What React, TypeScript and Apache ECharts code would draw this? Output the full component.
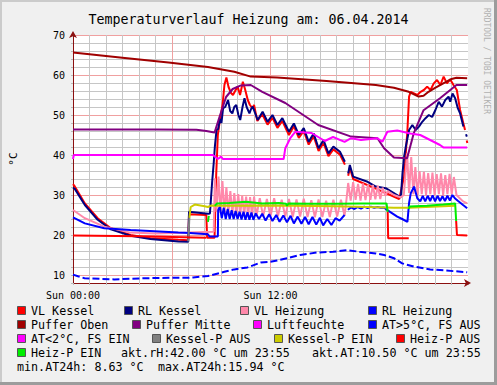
import React, { useEffect, useRef } from 'react';
import * as echarts from 'echarts';

type P = [number, number | null];

// hours since Sun 00:00, temperature °C
const vlKessel: P[] = [[0,32.7],[0.1,32.2],[0.72,27.9],[1.5,24.2],[2.3,21.7],[3.5,20.0],[4.7,19.2],[6.4,18.8],[7.0,18.7],[7.05,25.2],[8.1,25.0],[8.15,19.3],[8.6,19.3],[8.7,35],[8.8,45],[8.9,48],[9.0,50.4],[9.1,53],[9.2,57.5],[9.32,59.4],[9.45,57],[9.6,55.5],[9.72,55],[9.85,56],[10.0,57.1],[10.15,55],[10.32,58.3],[10.45,56.5],[10.62,53.75],[10.75,52.5],[10.9,51.7],[11.0,52.5],[11.2,48.5],[11.5,50.2],[11.82,47.6],[12.12,49.3],[12.42,46.8],[12.72,48.5],[13.12,45.0],[13.42,47.2],[13.72,44.3],[14.02,46.0],[14.32,42.6],[14.62,44.7],[14.92,41.0],[15.22,43.0],[15.52,39.7],[15.82,41.4],[16.22,40.1],[16.52,37.6],[16.6,null],[16.72,34.8],[16.82,36.8],[17.02,34.0],[18.4,31.6],[19.82,29.0],[20.12,34.6],[20.32,46.25],[20.42,54.6],[20.52,55.8],[20.72,55.4],[20.92,55.0],[21.12,55.8],[21.32,56.25],[21.52,57.1],[21.72,56.25],[21.92,57.9],[22.12,58.75],[22.32,57.5],[22.52,59.6],[22.72,57.9],[22.92,58.9],[23.12,57.5],[23.32,56.25],[23.52,51.25],[23.72,47.9],[23.82,46.25],[23.9,null],[23.92,43.6],[23.96,43.0]];

const rlKessel: P[] = [[0,31.8],[0.1,31.6],[0.72,27.5],[1.5,23.8],[2.3,21.4],[3.5,19.8],[4.7,19.0],[6.4,18.4],[7.0,18.3],[7.05,25.8],[8.2,25.3],[8.32,25.4],[8.45,33],[8.55,38],[8.62,42.1],[8.72,46.25],[8.82,46.5],[8.92,49],[9.02,48],[9.12,51.7],[9.25,52],[9.42,53.75],[9.55,51],[9.68,50.4],[9.8,52],[9.92,52.5],[10.05,50],[10.16,48.75],[10.3,52],[10.42,54.2],[10.55,52],[10.72,50.4],[10.82,51.5],[10.92,52.1],[11.22,48.75],[11.52,50.8],[11.82,48.3],[12.12,50],[12.42,47.5],[12.72,49.2],[13.12,45.8],[13.42,47.9],[13.72,45],[14.02,46.7],[14.32,43.3],[14.62,45.4],[14.92,41.7],[15.22,43.75],[15.52,40.4],[15.82,42.1],[16.22,40.8],[16.52,38.3],[16.6,null],[16.72,35.4],[16.82,37.5],[17.02,34.6],[17.9,33.3],[18.4,32.1],[19.0,31.7],[19.92,29.4],[20.02,35.4],[20.12,39.6],[20.22,42.1],[20.42,46.25],[20.62,47.5],[20.82,46.25],[21.02,47.1],[21.22,48.3],[21.42,49.2],[21.62,50],[21.82,49.5],[22.02,51.25],[22.22,53.3],[22.42,52.1],[22.62,53.75],[22.82,54.6],[22.92,53.3],[23.06,55.4],[23.22,54.2],[23.38,51.7],[23.52,50.4],[23.72,47.1],[23.8,null],[23.88,45.2],[23.93,44.6]];

const vlHeizung: P[] = [[0,26.25],[0.72,24.2],[1.9,22.1],[3.5,20.6],[5.0,20.4],[7.0,20.6],[8.55,20.8],[8.62,34.2],[8.72,25.8],[8.84,34.6],[8.96,25.5],[9.08,33.5],[9.2,25.3],[9.32,32.0],[9.44,25.3],[9.56,31.0],[9.68,25.2],[9.8,30.5],[9.92,25.0],[10.04,30.2],[10.16,25.0],[10.28,29.8],[10.4,25.0],[10.52,29.6],[10.64,24.9],[10.76,29.5],[10.88,24.8],[11.0,29.6],[11.15,24.8],[11.35,29.2],[11.55,24.6],[11.78,29.0],[12.0,24.6],[12.22,29.2],[12.45,24.7],[12.68,28.8],[12.9,24.6],[13.12,29.0],[13.35,24.5],[13.58,28.9],[13.8,24.6],[14.02,29.1],[14.25,24.5],[14.48,28.7],[14.7,24.4],[14.92,28.9],[15.15,24.5],[15.38,28.6],[15.6,24.5],[15.82,28.8],[16.05,24.6],[16.28,28.8],[16.5,24.8],[16.62,29],[16.72,33.0],[16.87,28.6],[17.02,33.2],[17.17,28.8],[17.32,32.8],[17.47,28.6],[17.62,32.9],[17.77,28.7],[17.92,32.6],[18.07,28.8],[18.22,32.5],[18.37,28.9],[18.52,32.3],[18.67,29.0],[18.82,31.8],[18.97,29.8],[19.12,31.0],[19.5,30.0],[19.9,29.4],[20.1,30],[20.3,40.4],[20.42,30.5],[20.55,39.5],[20.68,30.2],[20.8,37.0],[20.93,30.0],[21.06,36.0],[21.19,30.2],[21.32,35.8],[21.45,30.0],[21.58,35.5],[21.71,30.2],[21.84,35.6],[21.97,30.0],[22.1,35.2],[22.23,30.2],[22.36,35.4],[22.49,30.0],[22.62,35.0],[22.75,30.2],[22.88,35.3],[23.01,30.2],[23.14,34.5],[23.3,30.0],[23.5,29.2],[23.7,28.4],[23.95,27.9]];

const rlHeizung: P[] = [[0,24.4],[0.72,22.9],[1.9,21.7],[3.5,21.25],[6.4,20.6],[7.1,20.5],[8.2,20.2],[8.3,19.6],[8.8,19.6],[8.82,26.2],[8.92,27.1],[9.04,24.2],[9.16,26.8],[9.28,24.0],[9.4,26.5],[9.52,24.0],[9.64,26.2],[9.76,24.0],[9.88,26.0],[10.0,24.0],[10.12,25.8],[10.24,23.9],[10.36,25.8],[10.48,23.8],[10.6,25.7],[10.72,23.8],[10.84,25.6],[10.96,23.8],[11.1,25.4],[11.3,24.0],[11.5,25.3],[11.7,23.6],[11.92,25.2],[12.12,23.5],[12.35,25.0],[12.55,23.3],[12.78,24.9],[13.0,23.2],[13.22,24.8],[13.42,22.9],[13.65,24.6],[13.88,22.8],[14.1,24.5],[14.32,22.7],[14.55,24.5],[14.78,22.6],[15.0,24.3],[15.2,22.4],[15.45,24.0],[15.7,22.5],[15.95,24.2],[16.2,23.6],[16.5,25.0],[16.6,null],[16.7,26.3],[16.9,26.9],[17.1,26.5],[17.3,27.0],[17.5,26.6],[17.7,27.1],[17.9,26.7],[18.1,27.1],[18.3,26.8],[18.5,27.0],[18.7,26.8],[18.9,26.9],[19.1,26.2],[19.4,25.4],[19.7,24.6],[20.0,24.0],[20.32,23.3],[20.42,28],[20.52,30.4],[20.72,32.1],[20.92,29.2],[21.1,28.4],[21.25,29.8],[21.4,28.4],[21.55,29.8],[21.7,28.5],[21.85,29.9],[22.0,28.4],[22.15,29.8],[22.3,28.5],[22.45,29.7],[22.6,28.5],[22.75,29.8],[22.9,28.6],[23.05,30.0],[23.2,29.2],[23.4,28.5],[23.7,27.5],[23.95,26.7]];

const pufferOben: P[] = [[0,65.6],[3,64.3],[5.8,63.1],[8.2,62.0],[9.8,60.8],[10.8,59.6],[12.4,59.4],[15.4,58.5],[18.4,57.5],[19.5,56.8],[20.4,55.8],[21.0,54.6],[21.3,54.8],[21.6,55.8],[22.0,56.8],[22.5,57.9],[23.0,59.0],[23.3,59.3],[23.95,59.2]];

const pufferMitte: P[] = [[0,46.4],[5,46.4],[7.5,46.3],[8.1,46.0],[8.6,45.6],[8.9,49.5],[9.3,54.5],[9.7,56.5],[10.2,57.4],[10.8,57.5],[11.5,55.8],[12.9,53.0],[14.9,47.5],[16.9,44.6],[18.5,44.2],[18.9,41.7],[19.5,39.4],[20.3,39.2],[20.7,45.4],[21.3,51.2],[22.3,54.2],[23.3,57.5],[23.95,57.5]];

const luftfeuchte: P[] = [[0,39],[0.05,40],[8.5,40],[8.8,39],[9.0,39.6],[9.1,39],[12.8,39],[12.9,41.7],[13.2,44.2],[13.5,45.8],[14.5,45.5],[15.3,43.5],[15.8,44.5],[16.5,43.3],[16.9,44.2],[17.5,43.75],[18.5,44.2],[18.8,43.3],[19.1,45.8],[19.7,46.1],[20.5,45.4],[21.1,45],[21.7,43.75],[22.3,42.5],[22.5,41.9],[23.95,41.9]];

const atWarm: P[] = [[0,10.1],[0.3,9.7],[0.7,9.2],[2.5,8.9],[4.5,9.2],[6.1,9.3],[7.0,9.3],[7.3,9.4],[8.2,9.75],[9.2,10.8],[9.8,11.4],[10.6,11.9],[11.4,13.1],[12.0,13.3],[12.4,13.6],[13.0,14.2],[13.8,15.0],[14.8,15.6],[15.8,15.8],[16.7,16.2],[17.4,15.8],[18.4,15.4],[18.9,15.0],[19.5,14.2],[20.0,12.9],[20.7,12.1],[21.7,11.4],[22.7,11.1],[23.95,10.7]];

const kesselPAus: P[] = [[7.0,18.4],[7.07,24.3]];

const kesselPEin: P[] = [[7.07,24.3],[7.15,27.0],[7.4,27.6],[8.0,27.2],[8.2,27.0],[8.4,27.4],[9.0,27.3],[12.0,27.4],[16.0,27.2],[19.0,26.9],[19.5,26.8],[20.4,26.8],[23.2,27.3]];

const heizPAus: P[] = [[0,19.9],[4,19.7],[8.1,19.3],[8.15,null],[19.12,25.8],[19.15,19.2],[20.4,19.2],[20.5,null],[23.28,23.5],[23.33,20.0],[23.95,19.9]];

const heizPEin: P[] = [[8.2,23.3],[8.25,24.8],[8.3,null],[8.62,27.3],[8.75,27.9],[9.5,28.0],[10.5,28.3],[11.5,27.9],[12.5,28.0],[12.95,27.8],[13.0,27.3],[13.1,27.9],[14.5,27.8],[16.0,27.8],[17.5,27.9],[19.05,27.9],[19.12,25.8],[19.2,null],[20.4,26.5],[20.45,27.1],[21.5,27.3],[22.5,27.6],[23.22,27.9],[23.28,23.5]];

const yTicks = [10, 20, 30, 40, 50, 60, 70];
const xTickLabels: Record<number, string> = { 0: 'Sun 00:00', 12: 'Sun 12:00' };

const titleText = 'Temperaturverlauf Heizung am: 06.04.2014';
const yName = '°C';
const watermark = 'RRDTOOL / TOBI OETIKER';

// legend: [label, colour or null, text x]
const legendRows: [string, string | null, number][][] = [
  [['VL Kessel', '#FF0000', 31], ['RL Kessel', '#000080', 138], ['VL Heizung', '#FF88AA', 254], ['RL Heizung', '#0000FF', 382]],
  [['Puffer Oben', '#A00000', 31], ['Puffer Mitte', '#800080', 146], ['Luftfeuchte', '#FF00FF', 267], ['AT>5°C, FS AUS', '#0000FF', 382]],
  [['AT<2°C, FS EIN', '#FF00FF', 31], ['Kessel-P AUS', '#808080', 166], ['Kessel-P EIN', '#CCCC00', 288], ['Heiz-P AUS', '#FF0000', 410]],
  [['Heiz-P EIN', '#00EE00', 31], ['akt.rH:42.00 °C um 23:55', null, 121], ['akt.AT:10.50 °C um 23:55', null, 312]],
  [['min.AT24h: 8.63 °C', null, 17], ['max.AT24h:15.94 °C', null, 158]],
];
const legendRowY = [311, 325, 339, 353, 367];

const MONO = '"DejaVu Sans Mono", monospace';

export default function App() {
  const ref = useRef<HTMLDivElement>(null);
  useEffect(() => {
    document.body.style.margin = '0';
    if (!ref.current) return;
    const chart = echarts.init(ref.current, null, { renderer: 'svg' });

    const mk = (name: string, data: P[], color: string, extra: any = {}) => ({
      name,
      type: 'line',
      data,
      z: 3,
      showSymbol: false,
      symbol: 'none',
      connectNulls: false,
      lineStyle: { color, width: 2, ...(extra.lineStyle || {}) },
      itemStyle: { color },
      emphasis: { disabled: true },
      silent: true,
    });

    const graphics: any[] = [];
    graphics.push({ type: 'rect', shape: { x: 0, y: 0, width: 497, height: 2 }, style: { fill: '#CBCBCB' } });
    graphics.push({ type: 'rect', shape: { x: 0, y: 0, width: 2, height: 385 }, style: { fill: '#CBCBCB' } });
    graphics.push({ type: 'rect', shape: { x: 494, y: 0, width: 3, height: 385 }, style: { fill: '#9C9C9C' } });
    graphics.push({ type: 'rect', shape: { x: 0, y: 382, width: 497, height: 3 }, style: { fill: '#9C9C9C' } });
    graphics.push({
      type: 'text', x: 486, y: 8, rotation: -Math.PI / 2,
      style: { text: watermark, font: '8px ' + MONO, fill: '#B0B0B0', textAlign: 'left', textVerticalAlign: 'middle', align: 'left', verticalAlign: 'middle' },
    });
    legendRows.forEach((row, ri) => {
      const cy = legendRowY[ri];
      row.forEach(([label, color, tx]) => {
        if (color) {
          graphics.push({
            type: 'rect', shape: { x: tx - 13.5, y: cy - 4.5, width: 8, height: 8 },
            style: { fill: color, stroke: '#555555', lineWidth: 1 },
          });
        }
        graphics.push({
          type: 'text', x: tx, y: cy,
          style: { text: label, font: '11.7px ' + MONO, fill: '#000', textAlign: 'left', textVerticalAlign: 'middle', align: 'left', verticalAlign: 'middle' },
        });
      });
    });

    const minor = '#C6C6C6';
    const major = '#F0A0A0';

    chart.setOption({
      animation: false,
      backgroundColor: '#F0F0F0',
      title: {
        text: titleText, left: 'center', top: 8,
        textStyle: { fontFamily: MONO, fontSize: 13.3, fontWeight: 'normal', color: '#000' },
      },
      grid: { left: 68, top: 35, width: 400, height: 248, show: true, backgroundColor: '#FFFFFF', borderWidth: 0 },
      xAxis: {
        type: 'value', min: 0, max: 24, interval: 1,
        axisLine: { onZero: false, lineStyle: { color: '#8B1010', width: 1 }, symbol: ['none', 'arrow'], symbolSize: [6, 7], symbolOffset: [0, 3] },
        axisTick: { show: true, length: 2, lineStyle: { color: '#BBBBBB' } },
        axisLabel: {
          margin: 7, fontFamily: MONO, fontSize: 10, color: '#000',
          formatter: (v: number) => xTickLabels[v] || '',
        },
        splitLine: { show: true, showMaxLine: false, lineStyle: { color: [major, minor, minor, minor, minor, minor], width: 1, opacity: 1 } },
      },
      yAxis: {
        type: 'value', min: 8, max: 70, interval: 2,
        name: yName, nameLocation: 'middle', nameGap: 54, nameRotate: 90,
        nameTextStyle: { fontFamily: MONO, fontSize: 11, color: '#000' },
        axisLine: { show: true, onZero: false, lineStyle: { color: '#8B1010', width: 1 }, symbol: ['none', 'arrow'], symbolSize: [6, 7], symbolOffset: [0, 4] },
        axisTick: { show: true, length: 2, lineStyle: { color: '#BBBBBB' } },
        axisLabel: {
          margin: 8, fontFamily: MONO, fontSize: 10, color: '#000',
          formatter: (v: number) => (yTicks.indexOf(v) >= 0 ? String(v) : ''),
        },
        splitLine: { show: true, lineStyle: { color: [minor, major, minor, minor, minor], width: 1, opacity: 1 } },
      },
      graphic: graphics,
      series: [
        mk('VL Kessel', vlKessel, '#FF0000'),
        mk('RL Kessel', rlKessel, '#000080'),
        mk('VL Heizung', vlHeizung, '#FF88AA'),
        mk('RL Heizung', rlHeizung, '#0000FF'),
        mk('Puffer Oben', pufferOben, '#A00000'),
        mk('Puffer Mitte', pufferMitte, '#800080'),
        mk('Luftfeuchte', luftfeuchte, '#FF00FF'),
        mk('AT>5°C, FS AUS', atWarm, '#0000FF', { lineStyle: { type: [7, 3] } }),
        mk('Kessel-P AUS', kesselPAus, '#808080'),
        mk('Kessel-P EIN', kesselPEin, '#CCCC00'),
        mk('Heiz-P AUS', heizPAus, '#FF0000'),
        mk('Heiz-P EIN', heizPEin, '#00EE00'),
      ],
    });
    return () => chart.dispose();
  }, []);
  return <div ref={ref} style={{ width: 497, height: 385 }} />;
}
